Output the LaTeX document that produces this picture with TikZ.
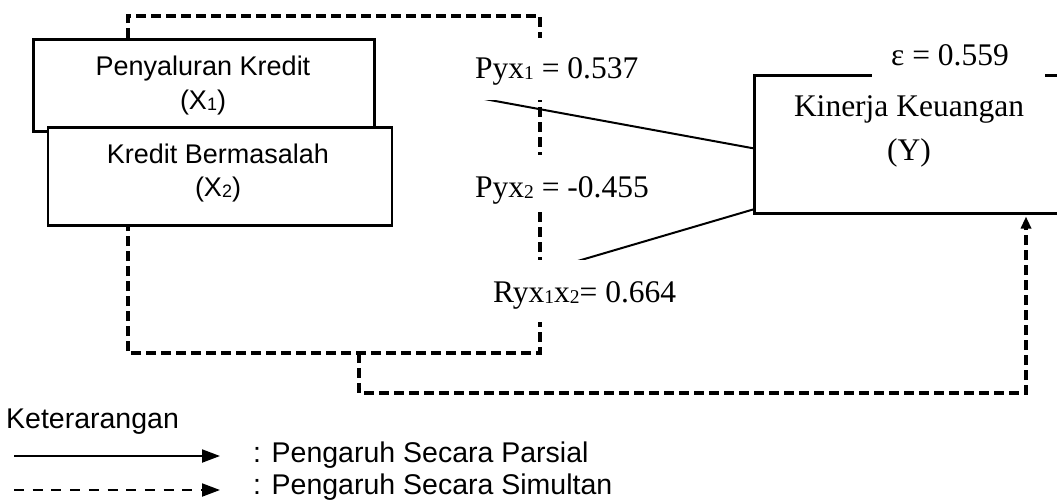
\documentclass[tikz,border=0pt]{standalone}
\usepackage{fontspec}
\setmainfont{Liberation Serif}
\newfontfamily\arialf{Liberation Sans}
\usetikzlibrary{arrows.meta}
\newcommand\tsub[1]{\raisebox{-0.05em}{\fontsize{19.5}{19.5}\selectfont #1}}
\newcommand\asub[1]{\raisebox{-0.06em}{\fontsize{18}{18}\selectfont #1}}
\begin{document}
\begin{tikzpicture}[x=1pt,y=-1pt,
  box/.style={draw=black, line width=2.5pt, fill=white, rectangle, inner sep=0pt, anchor=north west},
  atext/.style={font=\arialf\fontsize{27}{30}\selectfont, anchor=base, inner sep=0pt},
  ttext/.style={font=\fontsize{31.5}{36}\selectfont, anchor=base, inner sep=0pt},
  ltext/.style={font=\arialf\fontsize{28.5}{32}\selectfont, anchor=base west, inner sep=0pt},
  lab/.style={font=\fontsize{31.5}{36}\selectfont, fill=white, inner ysep=0pt, inner xsep=10pt, anchor=base west},
  sim/.style={line width=3.5pt, dash pattern=on 10pt off 5pt},
  par/.style={line width=2pt},
  tip/.style={-{Triangle[length=12pt,width=10pt]}},
  ltip/.style={-{Triangle[length=18pt,width=13pt]}},
]
\clip (0,0) rectangle (1057,499);
\fill[white] (0,0) rectangle (1057,499);

% boxes
\node[box, minimum width=341pt, minimum height=92pt] (X1) at (32,38) {};
\node[box, minimum width=344pt, minimum height=98pt] (X2) at (46.5,126) {};
\node[box, minimum width=330pt, minimum height=138pt] (Y) at (753,74) {};

% box texts
\node[atext] (X1a) at (203,75) {Penyaluran Kredit};
\node[atext] (X1b) at (203,109) {(X\asub{1})};
\node[atext] (X2a) at (218,163) {Kredit Bermasalah};
\node[atext] (X2b) at (218,196) {(X\asub{2})};
\node[ttext] (Ya) at (909,116) {Kinerja Keuangan};
\node[ttext] (Yb) at (909,160) {(Y)};

% simultaneous (dashed) paths
\draw[sim] (128,0 |- X1.north) -- (128,16) -- (540,16) -- (540,353) -- (128,353) -- (128,0 |- X2.south);
\draw[sim, tip, shorten >=2pt] (359,353) -- (359,393) -- (1026,393) -- (1026,0 |- Y.south);

% partial paths
\coordinate (l1s) at (480,98.2);
\coordinate (l2s) at (560,266.2);
\draw[par] (l1s) -- ([yshift=-4pt]Y.west);
\draw[par] (l2s) -- ([yshift=5pt]Y.south west);

% coefficient labels
\node[lab, text height=40pt, text depth=22pt] (P1) at (465,78) {Pyx\tsub{1} = 0.537};
\node[lab, text height=42pt, text depth=15pt] (P2) at (465,197) {Pyx\tsub{2} = -0.455};
\node[lab, text height=42pt, text depth=20pt] (R) at (483,302) {Ryx\tsub{1}x\tsub{2}= 0.664};
\node[font=\fontsize{31.5}{36}\selectfont, fill=white, inner sep=0pt, anchor=base west, text height=25pt, text depth=12pt] (E) at (872,65) {\hspace*{19pt}ε = 0.559\hspace*{36pt}};

% legend
\node[ltext] (K) at (6,428) {Keterarangan};
\coordinate (a1) at (14,456);
\coordinate (b1) at (220,456);
\coordinate (a2) at (14,490);
\coordinate (b2) at (220,490);
\draw[par, ltip] (a1) -- (b1);
\draw[line width=2pt, dash pattern=on 10pt off 8.7pt, ltip] (a2) -- (b2);
\node[ltext] (L1) at (253,462) {: Pengaruh Secara Parsial};
\node[ltext] (L2) at (253,494) {: Pengaruh Secara Simultan};
\end{tikzpicture}
\end{document}
